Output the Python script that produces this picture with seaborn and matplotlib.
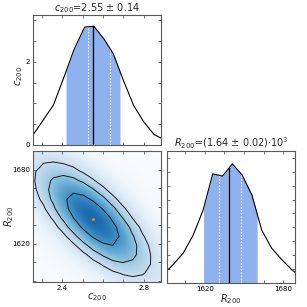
import numpy as np
import matplotlib
matplotlib.use("Agg")
import matplotlib.pyplot as plt
from matplotlib.colors import PowerNorm
from matplotlib.ticker import MultipleLocator, NullFormatter
import seaborn as sns

# marginal of c200
c_grid = [2.26, 2.357, 2.41, 2.458, 2.51, 2.555, 2.605, 2.65, 2.70, 2.75, 2.80, 2.85, 2.89]
c_dens = [0.26, 0.96, 1.65, 2.30, 2.84, 2.86, 2.55, 2.20, 1.55, 0.95, 0.55, 0.25, 0.15]

# marginal of R200
r_grid = [1588.5, 1596, 1603.5, 1611, 1618.5, 1626, 1633.5, 1641, 1648.5,
          1656, 1663.5, 1671, 1678.5, 1686, 1693.5]
r_dens = [0.0016, 0.0034, 0.0054, 0.0086, 0.0130, 0.0196, 0.0192, 0.0214,
          0.0194, 0.0158, 0.0095, 0.0063, 0.0043, 0.0025, 0.0011]

# summary stats: median, 1-sigma band, inner dashed marks
c_med, c_lo, c_hi, c_dash = 2.55, 2.419, 2.683, [2.525, 2.633]
r_med, r_lo, r_hi, r_dash = 1638.7, 1619.0, 1660.0, [1631.0, 1647.5]

# joint posterior (gaussian approx)
mu_c, mu_r = 2.55, 1640.0
sig_c, sig_r, rho = 0.135, 22.0, -0.72
contour_r = [2.1, 1.6, 0.97]

c_lim = (2.257, 2.884)
r_lim = (1589, 1695)
fill_col = "#8fb1ee"

sns.set_style("ticks")
plt.rcParams["font.family"] = ["DejaVu Sans"]
plt.rcParams["mathtext.fontset"] = "dejavusans"

fig = plt.figure(figsize=(3.07, 3.07), dpi=100)
ax_c = fig.add_axes([0.1075, 0.528, 0.417, 0.423])
ax_2d = fig.add_axes([0.1075, 0.081, 0.417, 0.427])
ax_r = fig.add_axes([0.544, 0.078, 0.417, 0.43])


def marginal(ax, xs, ys, med, lo, hi, dash):
    xs = np.asarray(xs)
    ys = np.asarray(ys)
    xf = np.linspace(lo, hi, 200)
    xf = np.sort(np.concatenate([xf, xs[(xs > lo) & (xs < hi)]]))
    ax.fill_between(xf, 0, np.interp(xf, xs, ys), color=fill_col, lw=0)
    for d in dash:
        ax.plot([d, d], [0, np.interp(d, xs, ys)], color="white", lw=0.7,
                ls=(0, (2, 1.2)), alpha=0.8)
    ax.plot([med, med], [0, np.interp(med, xs, ys)], color="black", lw=0.9)
    sns.lineplot(x=xs, y=ys, ax=ax, color="black", lw=0.8, sort=False)


def style(ax):
    ax.tick_params(which="both", direction="in", top=True, right=True,
                   labelsize=5, length=2.5, width=0.6, pad=2, colors="0.35",
                   labelcolor="black")
    for s in ax.spines.values():
        s.set_linewidth(0.8)
        s.set_color("0.35")


# top-left: c200 marginal
marginal(ax_c, c_grid, c_dens, c_med, c_lo, c_hi, c_dash)
ax_c.set_xlim(*c_lim)
ax_c.set_ylim(0, 3.13)
ax_c.xaxis.set_major_locator(MultipleLocator(0.4))
ax_c.xaxis.set_minor_locator(MultipleLocator(0.1))
ax_c.xaxis.set_major_formatter(NullFormatter())
ax_c.yaxis.set_major_locator(MultipleLocator(2))
ax_c.yaxis.set_minor_locator(MultipleLocator(0.5))
ax_c.set_ylabel("$c_{200}$", fontsize=7)
ax_c.yaxis.set_label_coords(-0.06, 0.53)
ax_c.set_title("$c_{200}$=2.55 ± 0.14", fontsize=7, pad=3)
style(ax_c)

# bottom-left: joint density
cf = np.linspace(c_lim[0], c_lim[1], 220)
rf = np.linspace(r_lim[0], r_lim[1], 220)


def gauss(cc, rr):
    u = (cc - mu_c) / sig_c
    v = (rr - mu_r) / sig_r
    q = (u * u - 2 * rho * u * v + v * v) / (1 - rho ** 2)
    return np.exp(-0.5 * q)


CF, RF = np.meshgrid(cf, rf)
ax_2d.imshow(gauss(CF, RF), origin="lower", aspect="auto", cmap="Blues",
             extent=[c_lim[0], c_lim[1], r_lim[0], r_lim[1]],
             norm=PowerNorm(gamma=0.55, vmin=0, vmax=1.55),
             interpolation="bilinear")
cc = np.arange(2.26, 2.90, 0.0485)
rc = np.arange(1588.5, 1700, 7.5)
CC, RC = np.meshgrid(cc, rc)
ax_2d.contour(CC, RC, gauss(CC, RC), levels=np.exp(-0.5 * np.array(contour_r) ** 2),
              colors="0.1", linewidths=0.7)
ax_2d.plot([mu_c], [mu_r], "o", color="#ff7f0e", ms=2.2, mew=0)
ax_2d.set_xlim(*c_lim)
ax_2d.set_ylim(*r_lim)
ax_2d.xaxis.set_major_locator(MultipleLocator(0.4))
ax_2d.xaxis.set_minor_locator(MultipleLocator(0.1))
ax_2d.yaxis.set_major_locator(MultipleLocator(60))
ax_2d.yaxis.set_minor_locator(MultipleLocator(15))
ax_2d.set_xlabel("$c_{200}$", fontsize=7, labelpad=0)
ax_2d.set_ylabel("$R_{200}$", fontsize=7)
ax_2d.yaxis.set_label_coords(-0.135, 0.5)
style(ax_2d)

# bottom-right: R200 marginal
marginal(ax_r, r_grid, r_dens, r_med, r_lo, r_hi, r_dash)
ax_r.set_xlim(1591, 1689)
ax_r.set_ylim(0, 0.0237)
ax_r.xaxis.set_major_locator(MultipleLocator(60))
ax_r.xaxis.set_minor_locator(MultipleLocator(15))
ax_r.yaxis.set_major_locator(MultipleLocator(0.0025))
ax_r.yaxis.set_major_formatter(NullFormatter())
ax_r.set_xlabel("$R_{200}$", fontsize=7, labelpad=0)
ax_r.set_title("$R_{200}$=(1.64 ± 0.02)·10$^3$", fontsize=7, pad=3)
style(ax_r)

fig.savefig("out.png", dpi=100)
